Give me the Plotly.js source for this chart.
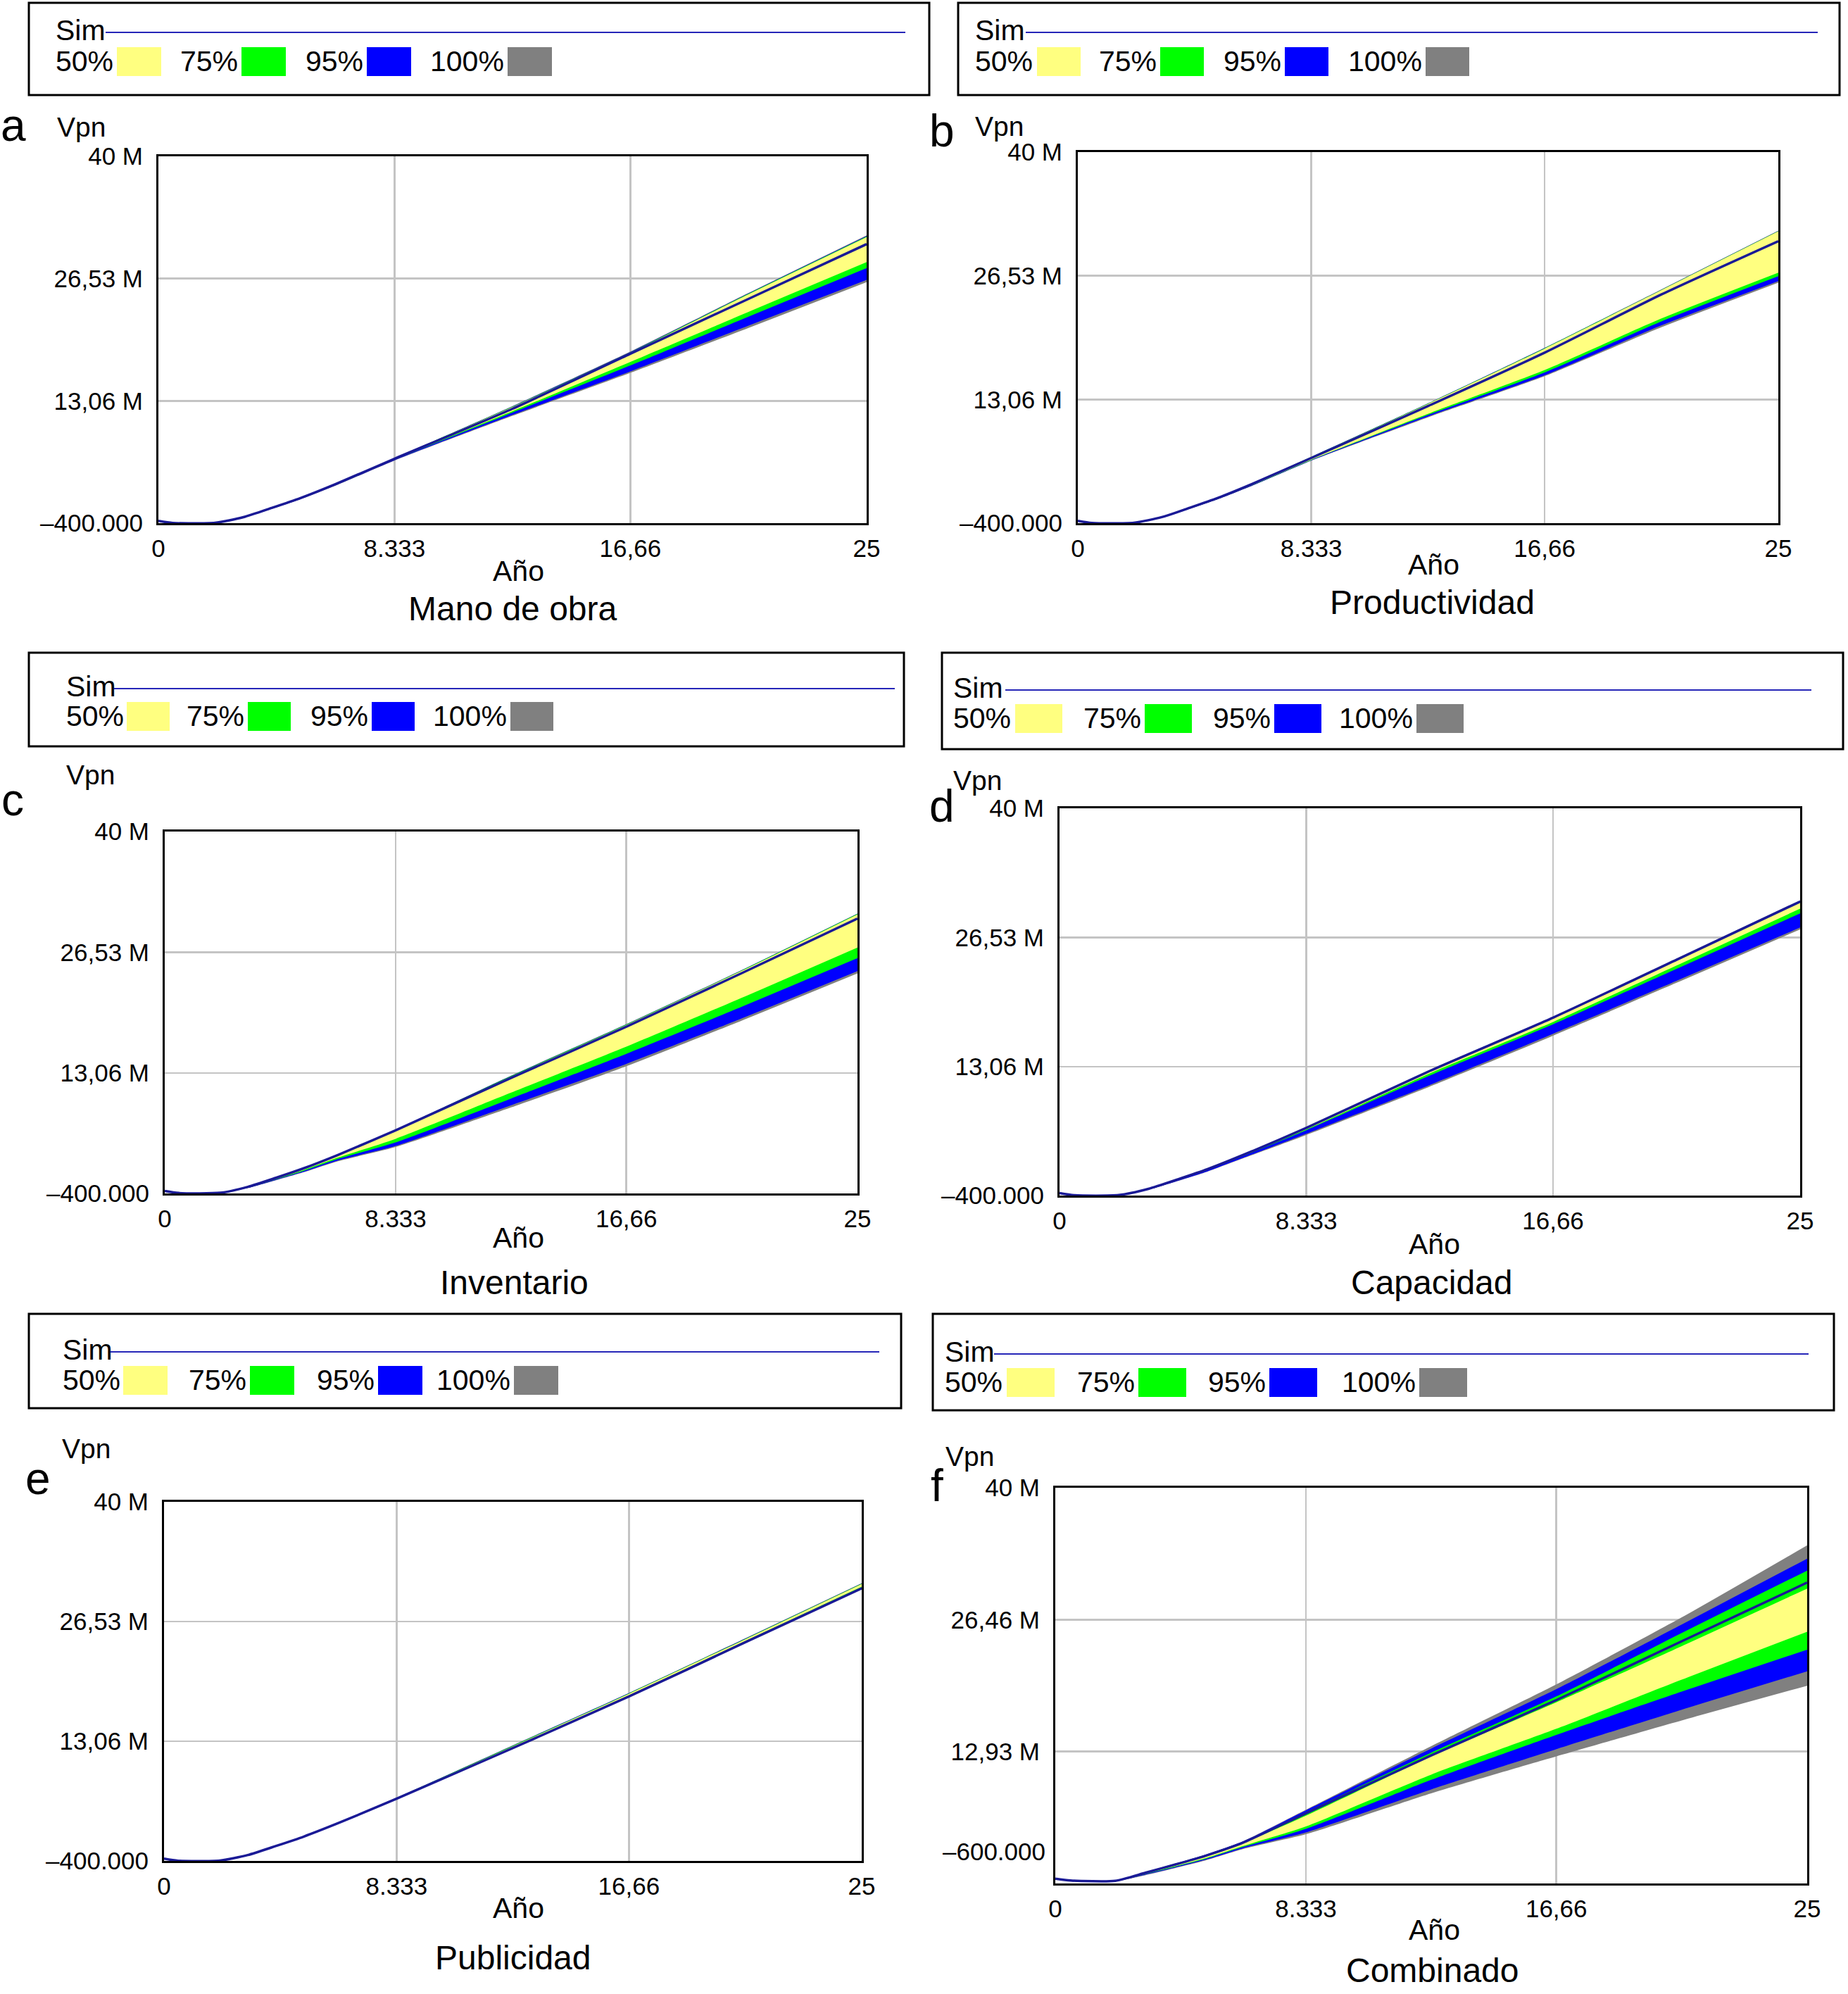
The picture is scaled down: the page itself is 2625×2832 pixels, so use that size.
<!DOCTYPE html>
<html>
<head>
<meta charset="utf-8">
<script src="https://cdn.plot.ly/plotly-3.0.1.min.js"></script>
<style>
  html, body { margin: 0; padding: 0; background: #fff; }
  #chart { width: 2625px; height: 2832px; }
</style>
</head>
<body>
<div id="chart"></div>
<script>
// Vpn (millones) por año, bandas de confianza de la simulacion
const X = [0, 0.5, 2, 3, 4, 5, 6.25, 8.333, 12.5, 16.66, 20.83, 25];

// a - Mano de obra
const simA   = [-0.15, -0.38, -0.36, 0.26, 1.28, 2.35, 3.90, 6.69, 12.20, 18.26, 24.30, 30.33];
const hi100A = [-0.13, -0.37, -0.35, 0.29, 1.32, 2.40, 3.96, 6.76, 12.50, 18.50, 24.95, 31.30];
const hi95A  = [-0.13, -0.37, -0.35, 0.29, 1.32, 2.40, 3.95, 6.75, 12.46, 18.45, 24.90, 31.22];
const hi75A  = [-0.14, -0.38, -0.35, 0.28, 1.31, 2.39, 3.94, 6.74, 12.43, 18.41, 24.86, 31.16];
const hi50A  = [-0.14, -0.38, -0.36, 0.28, 1.30, 2.38, 3.93, 6.73, 12.39, 18.36, 24.80, 31.10];
const lo50A  = [-0.16, -0.39, -0.37, 0.24, 1.24, 2.30, 3.84, 6.62, 11.92, 17.36, 22.86, 28.34];
const lo75A  = [-0.16, -0.39, -0.37, 0.23, 1.22, 2.28, 3.81, 6.59, 11.78, 16.97, 22.34, 27.69];
const lo95A  = [-0.17, -0.40, -0.38, 0.21, 1.19, 2.24, 3.76, 6.53, 11.52, 16.32, 21.36, 26.40];
const lo100A = [-0.18, -0.40, -0.39, 0.20, 1.17, 2.21, 3.72, 6.49, 11.42, 16.15, 21.10, 26.14];

// b - Productividad
const simB   = [-0.15, -0.38, -0.36, 0.26, 1.28, 2.35, 3.90, 6.69, 12.35, 18.16, 24.50, 30.30];
const hi100B = [-0.13, -0.37, -0.35, 0.30, 1.33, 2.42, 3.99, 6.82, 12.65, 18.69, 25.05, 31.45];
const hi95B  = [-0.13, -0.37, -0.35, 0.30, 1.33, 2.41, 3.98, 6.81, 12.63, 18.66, 25.02, 31.42];
const hi75B  = [-0.14, -0.37, -0.35, 0.29, 1.32, 2.40, 3.97, 6.80, 12.61, 18.64, 25.00, 31.40];
const hi50B  = [-0.14, -0.38, -0.36, 0.29, 1.31, 2.39, 3.96, 6.78, 12.58, 18.60, 24.97, 31.37];
const lo50B  = [-0.16, -0.39, -0.37, 0.23, 1.21, 2.26, 3.77, 6.50, 11.50, 16.27, 21.88, 26.87];
const lo75B  = [-0.17, -0.39, -0.38, 0.22, 1.20, 2.24, 3.75, 6.47, 11.38, 16.01, 21.56, 26.48];
const lo95B  = [-0.17, -0.40, -0.38, 0.21, 1.18, 2.22, 3.72, 6.43, 11.22, 15.70, 21.14, 25.96];
const lo100B = [-0.18, -0.40, -0.39, 0.20, 1.17, 2.20, 3.70, 6.40, 11.12, 15.60, 20.93, 25.78];

// c - Inventario
const simC   = [-0.13, -0.35, -0.33, 0.34, 1.33, 2.39, 3.90, 6.64, 12.50, 18.22, 24.20, 30.28];
const hi100C = [-0.12, -0.34, -0.32, 0.36, 1.36, 2.43, 3.96, 6.72, 12.75, 18.50, 24.55, 30.85];
const hi95C  = [-0.12, -0.34, -0.32, 0.36, 1.35, 2.42, 3.95, 6.71, 12.72, 18.48, 24.52, 30.82];
const hi75C  = [-0.12, -0.35, -0.33, 0.35, 1.34, 2.41, 3.93, 6.70, 12.70, 18.46, 24.50, 30.80];
const hi50C  = [-0.13, -0.35, -0.33, 0.33, 1.31, 2.36, 3.85, 6.58, 12.62, 18.40, 24.45, 30.75];
const lo50C  = [-0.15, -0.37, -0.35, 0.28, 1.22, 2.20, 3.60, 5.70, 10.85, 15.98, 21.45, 27.06];
const lo75C  = [-0.16, -0.38, -0.36, 0.25, 1.15, 2.10, 3.45, 5.30, 10.20, 15.19, 20.45, 25.87];
const lo95C  = [-0.17, -0.39, -0.37, 0.22, 1.10, 2.00, 3.28, 4.90, 9.45, 14.06, 19.15, 24.42];
const lo100C = [-0.18, -0.40, -0.38, 0.20, 1.05, 1.95, 3.20, 4.78, 9.20, 13.80, 18.90, 24.16];

// d - Capacidad
const simD   = [-0.14, -0.37, -0.35, 0.30, 1.30, 2.36, 3.90, 6.66, 12.60, 18.16, 24.20, 30.27];
const hi100D = [-0.13, -0.36, -0.34, 0.32, 1.33, 2.40, 3.95, 6.72, 12.70, 18.25, 24.32, 30.40];
const hi95D  = [-0.13, -0.36, -0.34, 0.32, 1.32, 2.39, 3.94, 6.71, 12.68, 18.22, 24.28, 30.36];
const hi75D  = [-0.13, -0.37, -0.35, 0.31, 1.31, 2.38, 3.93, 6.70, 12.65, 18.20, 24.25, 30.32];
const hi50D  = [-0.14, -0.37, -0.35, 0.30, 1.30, 2.36, 3.90, 6.66, 12.58, 18.15, 24.18, 30.25];
const lo50D  = [-0.15, -0.38, -0.36, 0.28, 1.26, 2.30, 3.82, 6.50, 12.35, 17.71, 23.60, 29.53];
const lo75D  = [-0.15, -0.38, -0.36, 0.27, 1.24, 2.27, 3.78, 6.42, 12.12, 17.47, 23.25, 29.04];
const lo95D  = [-0.17, -0.39, -0.38, 0.22, 1.15, 2.14, 3.60, 6.05, 11.14, 16.48, 22.00, 27.56];
const lo100D = [-0.18, -0.40, -0.39, 0.20, 1.12, 2.10, 3.54, 5.92, 10.97, 16.28, 21.80, 27.37];

// e - Publicidad
const simE   = [-0.15, -0.38, -0.36, 0.26, 1.27, 2.33, 3.86, 6.60, 12.30, 18.10, 24.20, 30.27];
const hi100E = [-0.14, -0.37, -0.35, 0.28, 1.30, 2.37, 3.92, 6.72, 12.62, 18.50, 24.65, 30.85];
const hi95E  = [-0.14, -0.37, -0.35, 0.28, 1.30, 2.36, 3.91, 6.70, 12.58, 18.47, 24.61, 30.82];
const hi75E  = [-0.14, -0.37, -0.35, 0.28, 1.29, 2.36, 3.90, 6.69, 12.55, 18.44, 24.58, 30.80];
const hi50E  = [-0.14, -0.38, -0.35, 0.27, 1.29, 2.35, 3.89, 6.67, 12.50, 18.40, 24.54, 30.75];
const lo50E  = [-0.15, -0.38, -0.36, 0.26, 1.27, 2.33, 3.86, 6.62, 12.38, 18.22, 24.34, 30.45];
const lo75E  = [-0.15, -0.38, -0.36, 0.26, 1.27, 2.33, 3.85, 6.61, 12.35, 18.17, 24.28, 30.38];
const lo95E  = [-0.15, -0.39, -0.37, 0.25, 1.26, 2.32, 3.84, 6.59, 12.30, 18.10, 24.22, 30.30];
const lo100E = [-0.16, -0.39, -0.37, 0.25, 1.25, 2.31, 3.83, 6.57, 12.26, 18.05, 24.16, 30.25];

// f - Combinado
const simF   = [-0.11, -0.30, -0.33, 0.50, 1.35, 2.25, 3.60, 6.60, 12.54, 18.22, 24.25, 30.27];
const hi100F = [-0.10, -0.28, -0.31, 0.56, 1.45, 2.36, 3.74, 6.96, 13.48, 19.82, 26.70, 34.09];
const hi95F  = [-0.10, -0.29, -0.31, 0.55, 1.44, 2.35, 3.72, 6.90, 13.23, 19.33, 25.97, 32.73];
const hi75F  = [-0.11, -0.29, -0.32, 0.53, 1.41, 2.31, 3.67, 6.70, 12.81, 18.59, 25.10, 31.50];
const hi50F  = [-0.11, -0.30, -0.33, 0.50, 1.36, 2.24, 3.55, 6.35, 12.44, 17.98, 23.75, 29.66];
const lo50F  = [-0.12, -0.31, -0.34, 0.40, 1.18, 2.00, 3.25, 5.25, 10.57, 15.27, 20.31, 25.23];
const lo75F  = [-0.12, -0.32, -0.35, 0.36, 1.12, 1.92, 3.15, 5.00, 10.03, 14.65, 19.08, 23.39];
const lo95F  = [-0.13, -0.33, -0.36, 0.30, 1.04, 1.83, 3.02, 4.64, 9.05, 13.18, 17.23, 21.17];
const lo100F = [-0.14, -0.34, -0.37, 0.25, 0.99, 1.77, 2.94, 4.45, 8.65, 12.44, 16.13, 19.69];

const X_TICKS = [0, 8.333, 16.66, 25];
const X_TICK_TEXT = ['0', '8.333', '16,66', '25'];
const Y_TICKS = [-0.4, 13.06, 26.53, 40];
const Y_TICK_TEXT = ['\u2013400.000', '13,06 M', '26,53 M', '40 M'];
const Y_TICKS_F = [12.93, 26.46, 40];
const Y_TICK_TEXT_F = ['12,93 M', '26,46 M', '40 M'];
const BAND_LABELS = ['50%', '75%', '95%', '100%'];

const W = 2625, H = 2832;
const px = (v) => v / W;
const py = (v) => 1 - v / H;

const FONT = 'Liberation Sans, Arial, sans-serif';
const COL_100 = '#808080';
const COL_95 = '#0000ff';
const COL_75 = '#00ff00';
const COL_50 = '#ffff80';
const COL_SIM = '#1a1a96';
const SWATCH = [COL_50, COL_75, COL_95, COL_100];
const TICK_SIZE = 35;
const LEG_SIZE = 41;

// layout of each panel, in page pixels
const PANELS = [
    {letter: 'a', title: 'Mano de obra', plot: [225, 222, 1231, 743], box: [41, 4, 1320, 135],
     textX: 77, simY: 43, rowY: 87, sw: [166, 343, 521, 721], swW: 63, line: [150, 1286],
     letterPos: [19, 178], vpn: [115, 181], ano: [736, 811], titlePos: [728, 864],
     series: [simA, hi100A, hi95A, hi75A, hi50A, lo50A, lo75A, lo95A, lo100A]},
    {letter: 'b', title: 'Productividad', plot: [1531, 216, 2526, 743], box: [1361, 4, 2613, 135],
     textX: 1383, simY: 43, rowY: 87, sw: [1473, 1648, 1825, 2025], swW: 62, line: [1457, 2582],
     letterPos: [1338, 186], vpn: [1419, 179], ano: [2036, 802], titlePos: [2034, 856],
     series: [simB, hi100B, hi95B, hi75B, hi50B, lo50B, lo75B, lo95B, lo100B]},
    {letter: 'c', title: 'Inventario', plot: [234, 1181, 1218, 1695], box: [41, 927, 1284, 1060],
     textX: 92, simY: 975, rowY: 1017, sw: [180, 352, 528, 725], swW: 61, line: [162, 1271],
     letterPos: [18, 1136], vpn: [128, 1100], ano: [736, 1758], titlePos: [730, 1821],
     series: [simC, hi100C, hi95C, hi75C, hi50C, lo50C, lo75C, lo95C, lo100C]},
    {letter: 'd', title: 'Capacidad', plot: [1505, 1148, 2557, 1698], box: [1338, 927, 2618, 1064],
     textX: 1352, simY: 977, rowY: 1020, sw: [1442, 1626, 1810, 2012], swW: 67, line: [1428, 2573],
     letterPos: [1338, 1145], vpn: [1388, 1109], ano: [2037, 1767], titlePos: [2034, 1821],
     series: [simD, hi100D, hi95D, hi75D, hi50D, lo50D, lo75D, lo95D, lo100D]},
    {letter: 'e', title: 'Publicidad', plot: [233, 2133, 1224, 2643], box: [41, 1866, 1280, 2000],
     textX: 87, simY: 1917, rowY: 1960, sw: [175, 355, 537, 730], swW: 63, line: [157, 1249],
     letterPos: [54, 2100], vpn: [123, 2057], ano: [736, 2710], titlePos: [728, 2780],
     series: [simE, hi100E, hi95E, hi75E, hi50E, lo50E, lo75E, lo95E, lo100E]},
    {letter: 'f', title: 'Combinado', plot: [1499, 2113, 2567, 2675], box: [1325, 1866, 2605, 2003],
     textX: 1340, simY: 1920, rowY: 1963, sw: [1430, 1617, 1803, 2016], swW: 68, line: [1412, 2569],
     letterPos: [1331, 2110], vpn: [1377, 2068], ano: [2037, 2741], titlePos: [2034, 2798],
     series: [simF, hi100F, hi95F, hi75F, hi50F, lo50F, lo75F, lo95F, lo100F]},
];

// a band is a lower edge followed by an upper edge filled down to it
function band(hi, lo, color, xa, ya) {
    let edge = {width: 0, color: color, shape: 'spline', smoothing: 0.6};
    return [
        {x: X, y: lo, xaxis: xa, yaxis: ya, type: 'scatter', mode: 'lines',
         line: edge, hoverinfo: 'skip'},
        {x: X, y: hi, xaxis: xa, yaxis: ya, type: 'scatter', mode: 'lines',
         line: edge, fill: 'tonexty', fillcolor: color, hoverinfo: 'skip'},
    ];
}

let traces = [];
let layout = {
    width: W, height: H,
    margin: {t: 0, l: 0, r: 0, b: 0},
    paper_bgcolor: '#fff', plot_bgcolor: '#fff',
    showlegend: false,
    font: {family: FONT, color: '#000'},
    shapes: [], annotations: [],
};

function text(str, x, y, size, anchor = 'center') {
    layout.annotations.push({
        text: str, xref: 'paper', yref: 'paper',
        x: px(x), y: py(y), xanchor: anchor, yanchor: 'middle',
        showarrow: false, font: {family: FONT, size: size, color: '#000'},
    });
}

PANELS.forEach((p, i) => {
    let n = i + 1;
    let xa = 'x' + n, ya = 'y' + n;
    let [sim, hi100, hi95, hi75, hi50, lo50, lo75, lo95, lo100] = p.series;
    let isF = p.letter === 'f';

    traces.push(...band(hi100, lo100, COL_100, xa, ya));
    traces.push(...band(hi95, lo95, COL_95, xa, ya));
    traces.push(...band(hi75, lo75, COL_75, xa, ya));
    traces.push(...band(hi50, lo50, COL_50, xa, ya));
    traces.push({
        x: X, y: sim, xaxis: xa, yaxis: ya,
        type: 'scatter', mode: 'lines',
        line: {color: COL_SIM, width: 3.5, shape: 'spline', smoothing: 0.6},
    });

    let [x0, y0, x1, y1] = p.plot;
    layout['xaxis' + n] = {
        domain: [px(x0), px(x1)], anchor: ya,
        range: [0, 25],
        tickvals: X_TICKS, ticktext: X_TICK_TEXT,
        ticks: '', ticklabelstandoff: 3,
        tickfont: {family: FONT, size: TICK_SIZE, color: '#000'},
        showgrid: true, gridcolor: '#c4c4c4', gridwidth: 2.5,
        showline: true, mirror: true, linecolor: '#000', linewidth: 3,
        zeroline: false, fixedrange: true,
    };
    layout['yaxis' + n] = {
        domain: [py(y1), py(y0)], anchor: xa,
        range: isF ? [-0.6, 40] : [-0.4, 40],
        tickvals: isF ? Y_TICKS_F : Y_TICKS,
        ticktext: isF ? Y_TICK_TEXT_F : Y_TICK_TEXT,
        ticks: '', ticklabelstandoff: 12,
        tickfont: {family: FONT, size: TICK_SIZE, color: '#000'},
        showgrid: true, gridcolor: '#c4c4c4', gridwidth: 2.5,
        showline: true, mirror: true, linecolor: '#000', linewidth: 3,
        zeroline: false, fixedrange: true,
    };
    if (isF) {
        // bottom label of panel f sits above the axis line
        layout.annotations.push({
            text: '\u2013600.000', xref: 'paper', yref: 'paper',
            x: px(x0 - 12), y: py(y1 - 46), xanchor: 'right', yanchor: 'middle',
            showarrow: false, font: {family: FONT, size: TICK_SIZE, color: '#000'},
        });
    }

    // legend box
    let [bx0, by0, bx1, by1] = p.box;
    layout.shapes.push({
        type: 'rect', xref: 'paper', yref: 'paper',
        x0: px(bx0), x1: px(bx1), y0: py(by1), y1: py(by0),
        line: {color: '#000', width: 3}, fillcolor: 'rgba(0,0,0,0)',
    });
    layout.shapes.push({
        type: 'line', xref: 'paper', yref: 'paper',
        x0: px(p.line[0]), x1: px(p.line[1]), y0: py(p.simY + 3), y1: py(p.simY + 3),
        line: {color: '#2626b8', width: 2},
    });
    text('Sim', p.textX, p.simY, LEG_SIZE, 'left');
    p.sw.forEach((sx, k) => {
        layout.shapes.push({
            type: 'rect', xref: 'paper', yref: 'paper',
            x0: px(sx), x1: px(sx + p.swW), y0: py(p.rowY + 21), y1: py(p.rowY - 20),
            line: {width: 0}, fillcolor: SWATCH[k],
        });
        if (k === 0) {
            text(BAND_LABELS[k], p.textX, p.rowY, LEG_SIZE, 'left');
        } else {
            text(BAND_LABELS[k], sx - 3, p.rowY, LEG_SIZE, 'right');
        }
    });

    text(p.letter, p.letterPos[0], p.letterPos[1], 64);
    text('Vpn', p.vpn[0], p.vpn[1], 39);
    text('A\u00f1o', p.ano[0], p.ano[1], 41);
    text(p.title, p.titlePos[0], p.titlePos[1], 48);
});

Plotly.newPlot('chart', traces, layout, {staticPlot: true, displayModeBar: false});
</script>
</body>
</html>
